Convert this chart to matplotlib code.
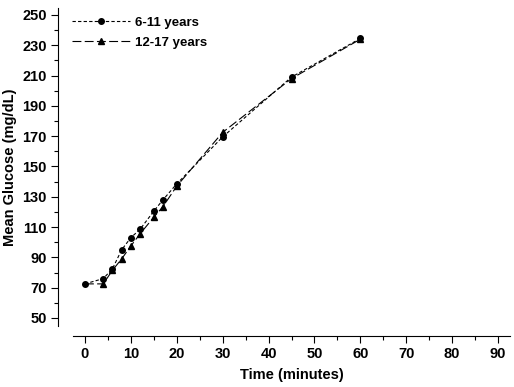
import numpy as np
import matplotlib
matplotlib.use('Agg')
import matplotlib.pyplot as plt
from matplotlib.ticker import MultipleLocator

plt.rcParams['font.family'] = ['Liberation Sans', 'DejaVu Sans']
plt.rcParams['font.weight'] = 'bold'

# data
time_611 = [0, 4, 6, 8, 10, 12, 15, 17, 20, 30, 45, 60]
gluc_611 = [72.5, 76, 82.5, 95, 103, 108.5, 120.5, 128, 138.5, 169.5, 209, 234.5]
time_1217 = [4, 6, 8, 10, 12, 15, 17, 20, 30, 45, 60]
gluc_1217 = [72.5, 81.5, 89, 97.5, 105.5, 116.5, 123.5, 137, 172.5, 208, 234]

fig = plt.figure(figsize=(5.14, 3.87), dpi=100)
W, H = 514, 387
ax = fig.add_axes([73 / W, 1 - 326 / H, (510 - 73) / W, (326 - 8) / H])

ax.plot(time_611, gluc_611, color='black', linestyle=(0, (3, 2)), linewidth=0.8,
        marker='o', markersize=4, label='6-11 years')
ax.plot([0] + time_1217, [gluc_611[0]] + gluc_1217, color='black', linestyle=(0, (8, 3)),
        linewidth=0.8, marker='^', markersize=4, markevery=list(range(1, len(time_1217) + 1)),
        label='12-17 years')

ax.set_xlim(-2.6, 92.6)
ax.set_ylim(44.7, 254.6)
ax.xaxis.set_minor_locator(MultipleLocator(5))
ax.yaxis.set_minor_locator(MultipleLocator(10))
ax.set_yticks(np.arange(50, 251, 20))
ax.set_xticks(np.arange(0, 91, 10))

for s in ['top', 'right']:
    ax.spines[s].set_visible(False)
ax.spines['left'].set_position(('outward', 11))
ax.spines['bottom'].set_position(('outward', 7))
ax.spines['left'].set_linewidth(0.8)
ax.spines['bottom'].set_linewidth(0.8)

ax.tick_params(which='major', length=5, width=0.8, labelsize=10.5, pad=3)
ax.tick_params(which='minor', length=3, width=0.8)
for lab in ax.get_xticklabels() + ax.get_yticklabels():
    lab.set_fontweight('bold')

ax.set_xlabel('Time (minutes)', fontsize=10.5, fontweight='bold', labelpad=5)
ax.set_ylabel('Mean Glucose (mg/dL)', fontsize=10.5, fontweight='bold', labelpad=4)

leg = ax.legend(loc='upper left', bbox_to_anchor=(-0.03, 1.01), frameon=False,
                handlelength=4.4, handletextpad=0.4, labelspacing=0.6,
                prop={'weight': 'bold', 'size': 9.5})

fig.savefig('out.png', dpi=100)
